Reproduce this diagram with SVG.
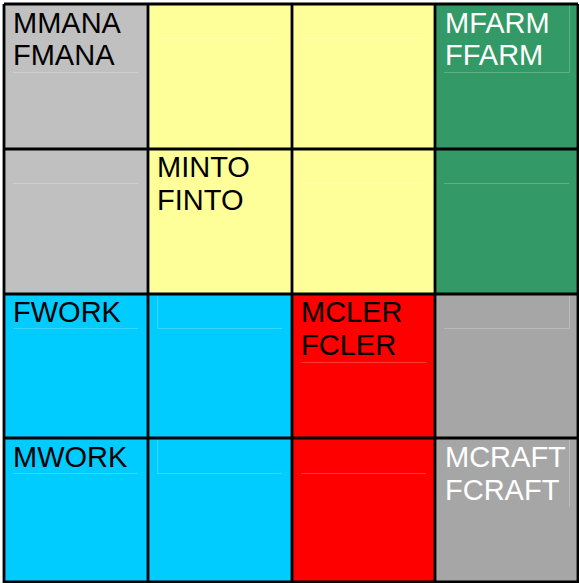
<svg xmlns="http://www.w3.org/2000/svg" width="579" height="583" viewBox="0 0 579 583">
<style>
.t{font-family:"Liberation Sans",Arial,sans-serif;font-size:29px;fill:#000}
.w{fill:#fff}
.box{fill:none;stroke:#fff;stroke-opacity:0.22;stroke-width:1}
.grid{stroke:#000;stroke-width:2.8;fill:none}
.g1{fill:#C0C0C0}.y{fill:#FFFF99}.gr{fill:#339966}.c{fill:#00CCFF}.r{fill:#FF0000}.g2{fill:#A6A6A6}
</style>
<rect width="579" height="583" fill="#fff"/>
<g id="r0c0"><rect class="g1" x="4" y="4" width="144" height="145"/><path class="box" d="M13 72.5H138"/><text class="t" x="13" y="32.5">MMANA</text><text class="t" x="13" y="65">FMANA</text></g>
<g id="r0c1"><rect class="y" x="148" y="4" width="144" height="145"/><path class="box" d="M157 38.5H282"/></g>
<g id="r0c2"><rect class="y" x="292" y="4" width="143" height="145"/><path class="box" d="M301 38.5H426"/></g>
<g id="r0c3"><rect class="gr" x="435" y="4" width="143" height="145"/><path class="box" d="M444 72.5H569.5V5"/><text class="t w" x="445" y="32.5">MFARM</text><text class="t w" x="445" y="65">FFARM</text></g>
<g id="r1c0"><rect class="g1" x="4" y="149" width="144" height="145"/><path class="box" d="M13 183.5H138"/></g>
<g id="r1c1"><rect class="y" x="148" y="149" width="144" height="145"/><text class="t" x="157" y="177">MINTO</text><text class="t" x="157" y="209.5">FINTO</text></g>
<g id="r1c2"><rect class="y" x="292" y="149" width="143" height="145"/><path class="box" d="M301 183.5H426"/></g>
<g id="r1c3"><rect class="gr" x="435" y="149" width="143" height="145"/><path class="box" d="M444 183.5H569"/></g>
<g id="r2c0"><rect class="c" x="4" y="294" width="144" height="144"/><path class="box" d="M13 328.5H138"/><text class="t" x="13" y="322">FWORK</text></g>
<g id="r2c1"><rect class="c" x="148" y="294" width="144" height="144"/><path class="box" d="M157.5 295V328.5H282"/></g>
<g id="r2c2"><rect class="r" x="292" y="294" width="143" height="144"/><path class="box" d="M301 362.5H426"/><text class="t" x="301" y="322">MCLER</text><text class="t" x="301" y="354.5">FCLER</text></g>
<g id="r2c3"><rect class="g2" x="435" y="294" width="143" height="144"/><path class="box" d="M444 328.5H569.5V295"/></g>
<g id="r3c0"><rect class="c" x="4" y="438" width="144" height="145"/><path class="box" d="M13 473.5H138"/><text class="t" x="13" y="467">MWORK</text></g>
<g id="r3c1"><rect class="c" x="148" y="438" width="144" height="145"/><path class="box" d="M157.5 439V473.5H282"/></g>
<g id="r3c2"><rect class="r" x="292" y="438" width="143" height="145"/><path class="box" d="M301 473.5H426"/></g>
<g id="r3c3"><rect class="g2" x="435" y="438" width="143" height="145"/><path class="box" d="M569.5 439V507"/><text class="t w" x="445" y="467">MCRAFT</text><text class="t w" x="445" y="500">FCRAFT</text></g>
<g id="gridlines" class="grid">
<path d="M4 4V583M148 4V583M292 4V583M435 4V583M578 4V583"/>
<path d="M4 4H578M4 149H578M4 294H578M4 438H578M4 582H578"/>
</g>
</svg>
